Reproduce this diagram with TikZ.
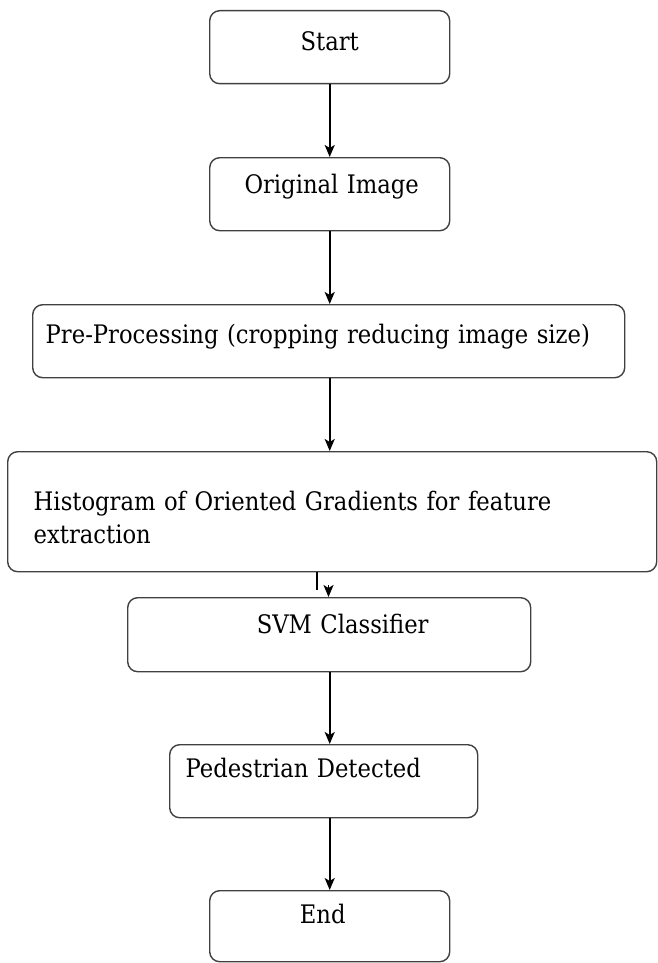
\documentclass[tikz,border=0pt]{standalone}
\usepackage{tikz}
\usepackage{fontspec}
\setmainfont{DejaVu Serif}[FakeStretch=0.89]
\usetikzlibrary{arrows.meta}

\begin{document}
\begin{tikzpicture}[x=1pt, y=1pt,
        box/.style={draw=black!75, line width=1.4pt, rounded corners=10pt, anchor=north west,
            inner ysep=0pt, font=\fontsize{25.5}{33}\selectfont},
        arr/.style={-{Stealth[length=12pt, width=10pt, inset=3pt]}, line width=1.9pt}]
        \useasboundingbox (0, 0) rectangle (658, -963);
        \node[box, text width=240pt, inner xsep=0pt, align=center, text height=40pt, text depth=33pt] (start) at (209, -10) {Start};
        \node[box, text width=240pt, inner xsep=0pt, align=center, text height=36pt, text depth=37pt] (orig) at (209, -157) {\hspace*{4pt}Original Image};
        \node[box, text width=566pt, inner xsep=13pt, align=left, text height=39pt, text depth=34pt] (pre) at (32, -304) {Pre-Processing (cropping reducing image size)};
        \node[box, text width=597pt, inner xsep=26pt, align=left, text height=59pt, text depth=61pt] (hog) at (7, -451) {Histogram of Oriented Gradients for feature\\extraction};
        \node[box, text width=403pt, inner xsep=0pt, align=center, text height=36pt, text depth=38pt] (svm) at (127, -597) {\hspace*{27pt}SVM Classifier};
        \node[box, text width=276pt, inner xsep=16pt, align=left, text height=33pt, text depth=40pt] (ped) at (169, -744) {Pedestrian Detected};
        \node[box, text width=240pt, inner xsep=0pt, align=center, text height=33pt, text depth=38pt] (end) at (209, -890) {\hspace*{-14pt}End};
        \coordinate (brk) at (317, -590);
        \coordinate (hd) at (328.5, -585);
        \draw[arr] (start.south) -- (start.south |- orig.north);
        \draw[arr] (orig.south) -- (orig.south |- pre.north);
        \draw[arr] (orig.south |- pre.south) -- (orig.south |- hog.north);
        \draw[line width=1.9pt] (hog.south -| brk) -- (brk);
        \draw[arr] (hd) -- (hd |- svm.north);
        \draw[arr] (orig.south |- svm.south) -- (orig.south |- ped.north);
        \draw[arr] (orig.south |- ped.south) -- (orig.south |- end.north);
    \end{tikzpicture}
\end{document}
